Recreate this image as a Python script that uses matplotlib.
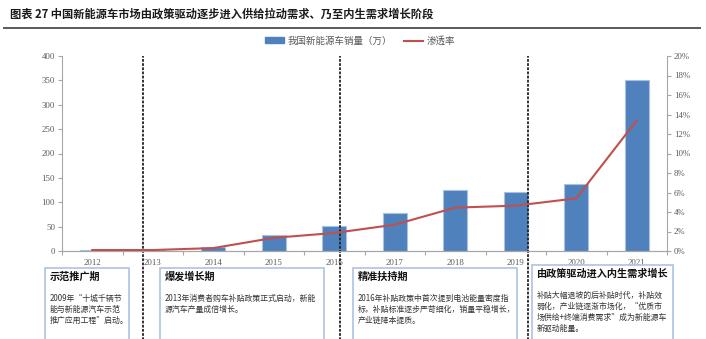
import matplotlib
matplotlib.use("Agg")
import matplotlib.pyplot as plt
from matplotlib.lines import Line2D
from matplotlib.patches import Patch, Rectangle
from matplotlib.ticker import FuncFormatter, MultipleLocator

plt.rcParams["font.family"] = ["Noto Sans CJK SC", "DejaVu Sans"]
plt.rcParams["axes.unicode_minus"] = False

years = ["2012", "2013", "2014", "2015", "2016", "2017", "2018", "2019", "2020", "2021"]
sales = [1.3, 1.8, 7.5, 33.1, 50.7, 77.7, 125.6, 120.6, 136.7, 350.7]   # 万辆
penetration = [0.1, 0.1, 0.3, 1.35, 1.85, 2.7, 4.45, 4.65, 5.4, 13.4]   # %

phase_breaks = [0.84, 4.09, 7.2]

phase_titles = ["示范推广期", "爆发增长期", "精准扶持期", "由政策驱动进入内生需求增长"]
phase_texts = [
    ["2009年“十城千辆节", "能与新能源汽车示范", "推广应用工程”启动。"],
    ["2013年消费者购车补贴政策正式启动，新能", "源汽车产量成倍增长。"],
    ["2016年补贴政策中首次提到电池能量密度指", "标，补贴标准逐步严苛细化，销量平稳增长，",
     "产业链降本提质。"],
    ["补贴大幅退坡的后补贴时代，补贴效", "弱化，产业链逐渐市场化，“优质市",
     "场供给+终端消费需求”成为新能源车", "新驱动能量。"],
]

BAR = "#4F81BD"
LINE = "#C0504D"
AXIS = "#A6A6A6"
TICK = "#595959"
W, H = 706, 339

fig = plt.figure(figsize=(7.06, 3.39), dpi=100)
ax = fig.add_axes([62 / W, 1 - 251 / H, 605 / W, 195 / H])
x = list(range(len(years)))

ax.bar(x, sales, width=0.4, color=BAR, edgecolor="#A9C1E3", linewidth=0.8, zorder=2)
ax.set_xlim(-0.5, 9.5)
ax.set_ylim(0, 400)
ax.yaxis.set_major_locator(MultipleLocator(50))

ax2 = ax.twinx()
ax2.plot(x, penetration, color=LINE, lw=1.5, zorder=3)
ax2.set_ylim(0, 20)
ax2.yaxis.set_major_locator(MultipleLocator(2))
ax2.yaxis.set_major_formatter(FuncFormatter(lambda v, _: f"{v:.0f}%"))

serif = {"family": "Liberation Serif", "size": 6.3}
for a in (ax, ax2):
    a.spines["top"].set_visible(False)
    for s in ("left", "right", "bottom"):
        a.spines[s].set_color(AXIS)
        a.spines[s].set_linewidth(0.8)
    a.tick_params(axis="y", colors=AXIS, labelcolor=TICK, length=3, width=0.8, pad=2)
    for lab in a.get_yticklabels():
        lab.set_fontproperties(serif)
ax2.spines["left"].set_visible(False)
ax.spines["right"].set_visible(False)

ax.set_xticks(x)
ax.set_xticklabels(years)
ax.set_xticks([i - 0.5 for i in range(len(years) + 1)], minor=True)
ax.tick_params(axis="x", which="major", length=0, pad=6, labelcolor=TICK)
ax.tick_params(axis="x", which="minor", length=3, width=0.8, color=AXIS)
for lab in ax.get_xticklabels():
    lab.set_fontproperties(serif)

# phase separators run from the plot top down through the text boxes
for b in phase_breaks:
    ax.axvline(b, ymin=-0.46, ymax=1, color="#222222", lw=1.3,
               linestyle=(0, (1.5, 0.8)), clip_on=False, zorder=5)

# legend
handles = [Patch(facecolor=BAR, edgecolor=BAR), Line2D([], [], color=LINE, lw=1.5)]
fig.legend(handles, ["我国新能源车销量（万）", "渗透率"], loc="center",
           bbox_to_anchor=(360 / W, 1 - 41 / H), ncol=2, frameon=False,
           fontsize=6.8, labelcolor=TICK, handlelength=2.0, handleheight=0.6,
           columnspacing=1.2, handletextpad=0.4)

# title and rule
fig.text(10 / W, 1 - 14 / H, "图表 27 中国新能源车市场由政策驱动逐步进入供给拉动需求、乃至内生需求增长阶段",
         fontsize=8.1, fontweight="bold", color="#1a1a1a", va="center", ha="left")
fig.add_artist(Line2D([4 / W, 700 / W], [1 - 28 / H, 1 - 28 / H], color="#595959", lw=1.4))

# phase description boxes
boxes = [(45, 129, 268), (160, 324, 268), (353, 517, 268), (532, 673, 265)]
for (x0, x1, top), title, lines in zip(boxes, phase_titles, phase_texts):
    fig.add_artist(Rectangle((x0 / W, -0.1), (x1 - x0) / W, (H - top) / H + 0.1,
                             transform=fig.transFigure, facecolor="white",
                             edgecolor="#B4C7E7", lw=1.3, clip_on=False))
    fig.text((x0 + 5) / W, 1 - (top + 9) / H, title, fontsize=7.3, fontweight="bold",
             color="#111111", va="center", ha="left")
    for j, line in enumerate(lines):
        fig.text((x0 + 5) / W, 1 - (top + 30 + j * 11.3) / H, line, fontsize=5.7,
                 color="#333333", va="center", ha="left")

fig.savefig("out.png", dpi=100, facecolor="white")
